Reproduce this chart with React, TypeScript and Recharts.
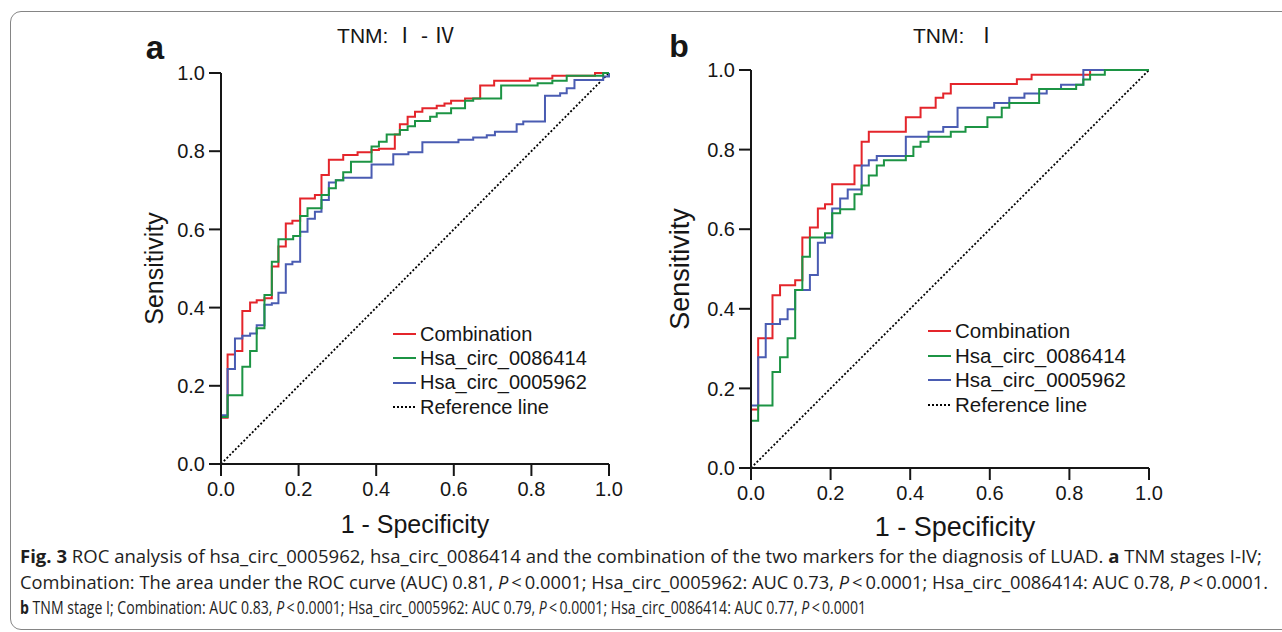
import React from 'react';
import { LineChart, Line, XAxis, YAxis, Legend, Label } from 'recharts';

// ROC points: [1 - specificity, sensitivity after the rise at that x]
const comboA: [number, number][] = [
  [0, 0], [0, 0.118], [0.017, 0.28], [0.036, 0.289], [0.055, 0.391], [0.075, 0.413], [0.092, 0.419],
  [0.112, 0.424], [0.131, 0.505], [0.148, 0.556], [0.167, 0.615], [0.184, 0.622], [0.204, 0.679],
  [0.242, 0.688], [0.259, 0.739], [0.278, 0.778], [0.315, 0.79], [0.352, 0.797], [0.388, 0.803],
  [0.407, 0.806], [0.448, 0.843], [0.461, 0.869], [0.481, 0.888], [0.5, 0.901], [0.519, 0.91],
  [0.556, 0.916], [0.576, 0.922], [0.593, 0.929], [0.629, 0.935], [0.668, 0.968], [0.704, 0.98],
  [0.796, 0.986], [0.854, 0.993], [0.964, 1], [1, 1],
];
const circ86A: [number, number][] = [
  [0, 0], [0, 0.12], [0.017, 0.176], [0.055, 0.249], [0.075, 0.289], [0.092, 0.347], [0.112, 0.432],
  [0.131, 0.517], [0.148, 0.575], [0.186, 0.583], [0.204, 0.634], [0.223, 0.654], [0.259, 0.688],
  [0.278, 0.705], [0.296, 0.726], [0.315, 0.746], [0.335, 0.773], [0.388, 0.812], [0.407, 0.824],
  [0.427, 0.843], [0.461, 0.854], [0.481, 0.864], [0.5, 0.877], [0.539, 0.888], [0.556, 0.897],
  [0.593, 0.91], [0.629, 0.929], [0.65, 0.935], [0.722, 0.968], [0.816, 0.974], [0.854, 0.98],
  [0.891, 0.993], [0.985, 1], [1, 1],
];
const circ59A: [number, number][] = [
  [0, 0], [0, 0.125], [0.017, 0.243], [0.036, 0.321], [0.055, 0.328], [0.075, 0.334], [0.092, 0.355],
  [0.112, 0.407], [0.131, 0.411], [0.148, 0.438], [0.167, 0.511], [0.184, 0.517], [0.204, 0.594],
  [0.223, 0.627], [0.242, 0.645], [0.259, 0.675], [0.278, 0.72], [0.296, 0.726], [0.315, 0.732],
  [0.388, 0.766], [0.444, 0.792], [0.483, 0.797], [0.519, 0.823], [0.612, 0.829], [0.65, 0.835],
  [0.685, 0.841], [0.706, 0.85], [0.762, 0.869], [0.779, 0.876], [0.835, 0.942], [0.874, 0.948],
  [0.891, 0.961], [0.911, 0.982], [0.985, 0.991], [1, 1],
];

const comboB: [number, number][] = [
  [0, 0], [0, 0.147], [0.018, 0.326], [0.054, 0.434], [0.073, 0.459], [0.111, 0.472], [0.129, 0.579],
  [0.148, 0.604], [0.168, 0.652], [0.186, 0.663], [0.204, 0.713], [0.26, 0.76], [0.278, 0.82],
  [0.296, 0.845], [0.389, 0.881], [0.426, 0.905], [0.464, 0.93], [0.483, 0.941], [0.502, 0.965],
  [0.668, 0.977], [0.705, 0.988], [0.852, 1], [1, 1],
];
const circ86B: [number, number][] = [
  [0, 0], [0, 0.119], [0.018, 0.157], [0.054, 0.241], [0.073, 0.278], [0.092, 0.326], [0.111, 0.447],
  [0.129, 0.531], [0.148, 0.579], [0.186, 0.59], [0.204, 0.64], [0.224, 0.65], [0.26, 0.688],
  [0.278, 0.71], [0.296, 0.735], [0.316, 0.76], [0.334, 0.773], [0.389, 0.784], [0.408, 0.807],
  [0.426, 0.82], [0.446, 0.832], [0.502, 0.845], [0.539, 0.857], [0.594, 0.881], [0.63, 0.905],
  [0.649, 0.917], [0.724, 0.952], [0.817, 0.963], [0.835, 0.976], [0.852, 0.988], [0.889, 1], [1, 1],
];
const circ59B: [number, number][] = [
  [0, 0], [0, 0.157], [0.018, 0.278], [0.037, 0.362], [0.073, 0.374], [0.092, 0.399], [0.111, 0.447],
  [0.148, 0.485], [0.168, 0.566], [0.186, 0.579], [0.204, 0.652], [0.224, 0.677], [0.243, 0.7],
  [0.278, 0.76], [0.296, 0.773], [0.316, 0.784], [0.389, 0.832], [0.446, 0.845], [0.483, 0.857],
  [0.519, 0.905], [0.611, 0.917], [0.649, 0.93], [0.687, 0.941], [0.743, 0.952], [0.779, 0.963],
  [0.835, 1], [1, 1],
];
const referenceLine: [number, number][] = [[0, 0], [1, 1]];

const axisTicks = [0, 0.2, 0.4, 0.6, 0.8, 1];
const legendOrder = ['Combination', 'Hsa_circ_0086414', 'Hsa_circ_0005962', 'Reference line'];

const RED = '#e4252b';
const GREEN = '#1c9444';
const BLUE = '#4a5cb2';
const INK = '#161616';
const FONT = '"Liberation Sans", Arial, sans-serif';

const toPoints = (pts: [number, number][]) => pts.map(([x, y]) => ({ x, y }));

const dashFor = (name: string) => (name === 'Reference line' ? '2 2' : undefined);

function LegendBox(props: any) {
  const items = [...(props.payload ?? [])].sort(
    (a: any, b: any) => legendOrder.indexOf(a.value) - legendOrder.indexOf(b.value),
  );
  return (
    <div style={{ fontFamily: FONT, fontSize: props.fontSize, color: INK }}>
      {items.map((item: any) => (
        <div key={item.value} style={{ display: 'flex', alignItems: 'center', height: props.rowHeight }}>
          <svg width={24} height={4} style={{ display: 'block' }}>
            <line x1={0} x2={23} y1={2} y2={2} stroke={item.color} strokeWidth={item.value === 'Reference line' ? 1.8 : 2}
              strokeDasharray={dashFor(item.value)} />
          </svg>
          <span style={{ marginLeft: 3, whiteSpace: 'nowrap' }}>{item.value}</span>
        </div>
      ))}
    </div>
  );
}

interface RocPanelProps {
  combo: [number, number][];
  c86: [number, number][];
  c59: [number, number][];
  width: number;
  height: number;
  margin: { top: number; right: number; bottom: number; left: number };
  yAxisWidth: number;
  xAxisHeight: number;
  labelSize: number;
  yLabelOffset: number;
  xLabelOffset: number;
  xLabelDx: number;
  legendLeft: number;
  legendTop: number;
  legendFont: number;
  legendRow: number;
}

function RocPanel(p: RocPanelProps) {
  const tickStyle = { fill: INK, fontSize: 20, fontFamily: FONT };
  return (
    <LineChart width={p.width} height={p.height} margin={p.margin}>
      <XAxis type="number" dataKey="x" domain={[0, 1]} ticks={axisTicks} interval={0}
        tickFormatter={(v: number) => v.toFixed(1)} height={p.xAxisHeight}
        axisLine={{ stroke: INK, strokeWidth: 2 }} tickLine={{ stroke: INK, strokeWidth: 2 }}
        tickSize={12} tickMargin={6} tick={tickStyle}>
        <Label value="1 - Specificity" position="insideBottom" offset={p.xLabelOffset} dx={p.xLabelDx}
          style={{ fontSize: p.labelSize, fontFamily: FONT, fill: INK }} />
      </XAxis>
      <YAxis type="number" dataKey="y" domain={[0, 1]} ticks={axisTicks} interval={0}
        tickFormatter={(v: number) => v.toFixed(1)} width={p.yAxisWidth}
        axisLine={{ stroke: INK, strokeWidth: 2 }} tickLine={{ stroke: INK, strokeWidth: 2 }}
        tickSize={12} tickMargin={4} tick={tickStyle}>
        <Label value="Sensitivity" angle={-90} position="insideLeft" offset={p.yLabelOffset}
          style={{ fontSize: p.labelSize, fontFamily: FONT, fill: INK, textAnchor: 'middle' }} />
      </YAxis>
      <Legend layout="vertical" align="center" verticalAlign="middle"
        wrapperStyle={{ left: p.legendLeft, top: p.legendTop, width: 'auto', height: 'auto' }}
        content={(props: any) => <LegendBox {...props} fontSize={p.legendFont} rowHeight={p.legendRow} />} />
      <Line data={toPoints(referenceLine)} dataKey="y" name="Reference line" type="linear" stroke="#000"
        strokeWidth={1.8} strokeDasharray="2 2" dot={false} activeDot={false} isAnimationActive={false} />
      <Line data={toPoints(p.combo)} dataKey="y" name="Combination" type="stepAfter" stroke={RED}
        strokeWidth={2} dot={false} activeDot={false} isAnimationActive={false} />
      <Line data={toPoints(p.c59)} dataKey="y" name="Hsa_circ_0005962" type="stepAfter" stroke={BLUE}
        strokeWidth={2} dot={false} activeDot={false} isAnimationActive={false} />
      <Line data={toPoints(p.c86)} dataKey="y" name="Hsa_circ_0086414" type="stepAfter" stroke={GREEN}
        strokeWidth={2} dot={false} activeDot={false} isAnimationActive={false} />
    </LineChart>
  );
}

const centered = (left: number, top: number): React.CSSProperties => ({
  position: 'absolute',
  left,
  top,
  transform: 'translate(-50%, -50%)',
  whiteSpace: 'nowrap',
  lineHeight: 1,
  color: INK,
});

// one caption line, squeezed horizontally to the width it has in the figure
function CaptionLine({ y, width, natural, children }: { y: number; width: number; natural: number; children: React.ReactNode }) {
  return (
    <g transform={`translate(20, ${y}) scale(${width / natural}, 1)`}>
      <text x={0} y={0} textLength={natural} lengthAdjust="spacingAndGlyphs">{children}</text>
    </g>
  );
}

export default function App() {
  const capFont = '"Open Sans", "Noto Sans", sans-serif';
  return (
    <div style={{ position: 'absolute', left: 0, top: 0, width: 1282, height: 632, overflow: 'hidden', background: '#fff', fontFamily: FONT }}>
      <div style={{ position: 'absolute', left: 10, top: 11, width: 1320, height: 617, border: '1.5px solid #858585', borderRadius: 11 }} />

      <div style={{ position: 'absolute', left: 0, top: 0 }}>
        <RocPanel combo={comboA} c86={circ86A} c59={circ59A} width={640} height={545}
          margin={{ top: 73, right: 31, bottom: 0, left: 0 }} yAxisWidth={221} xAxisHeight={81}
          labelSize={25} yLabelOffset={154} xLabelOffset={12} xLabelDx={0}
          legendLeft={393} legendTop={322} legendFont={20} legendRow={24.3} />
      </div>
      <div style={{ position: 'absolute', left: 640, top: 0 }}>
        <RocPanel combo={comboB} c86={circ86B} c59={circ59B} width={642} height={545}
          margin={{ top: 70, right: 133, bottom: 0, left: 0 }} yAxisWidth={111} xAxisHeight={77}
          labelSize={27} yLabelOffset={39} xLabelOffset={9} xLabelDx={5}
          legendLeft={288} legendTop={319} legendFont={20.5} legendRow={24.6} />
      </div>

      <div style={{ ...centered(396, 35), fontSize: 21, fontFamily: `${FONT}, "Noto Sans CJK SC"` }}>TNM: Ⅰ - Ⅳ</div>
      <div style={{ ...centered(955, 35), fontSize: 21, fontFamily: `${FONT}, "Noto Sans CJK SC"` }}>TNM:&nbsp; Ⅰ</div>
      <div style={{ ...centered(155, 47), fontSize: 33, fontWeight: 700 }}>a</div>
      <div style={{ ...centered(679, 46), fontSize: 32, fontWeight: 700 }}>b</div>

      <svg width={1282} height={92} style={{ position: 'absolute', left: 0, top: 540 }}>
        <g fontFamily={capFont} fontSize={17.5} fill="#1e1e1e">
          <CaptionLine y={23} width={1242} natural={1250}>
            <tspan fontWeight={700}>Fig. 3</tspan>
            {'  ROC analysis of hsa_circ_0005962, hsa_circ_0086414 and the combination of the two markers for the diagnosis of LUAD. '}
            <tspan fontWeight={700}>a</tspan>
            {' TNM stages I-IV;'}
          </CaptionLine>
          <CaptionLine y={49} width={1248} natural={1262}>
            {'Combination: The area under the ROC curve (AUC) 0.81, '}
            <tspan fontStyle="italic">P</tspan>
            {'\u2009<\u20090.0001; Hsa_circ_0005962: AUC 0.73, '}
            <tspan fontStyle="italic">P</tspan>
            {'\u2009<\u20090.0001; Hsa_circ_0086414: AUC 0.78, '}
            <tspan fontStyle="italic">P</tspan>
            {'\u2009<\u20090.0001.'}
          </CaptionLine>
          <CaptionLine y={74} width={846} natural={1060}>
            <tspan fontWeight={700}>b</tspan>
            {' TNM stage I; Combination: AUC 0.83, '}
            <tspan fontStyle="italic">P</tspan>
            {'\u2009<\u20090.0001; Hsa_circ_0005962: AUC 0.79, '}
            <tspan fontStyle="italic">P</tspan>
            {'\u2009<\u20090.0001; Hsa_circ_0086414: AUC 0.77, '}
            <tspan fontStyle="italic">P</tspan>
            {'\u2009<\u20090.0001'}
          </CaptionLine>
        </g>
      </svg>
    </div>
  );
}
